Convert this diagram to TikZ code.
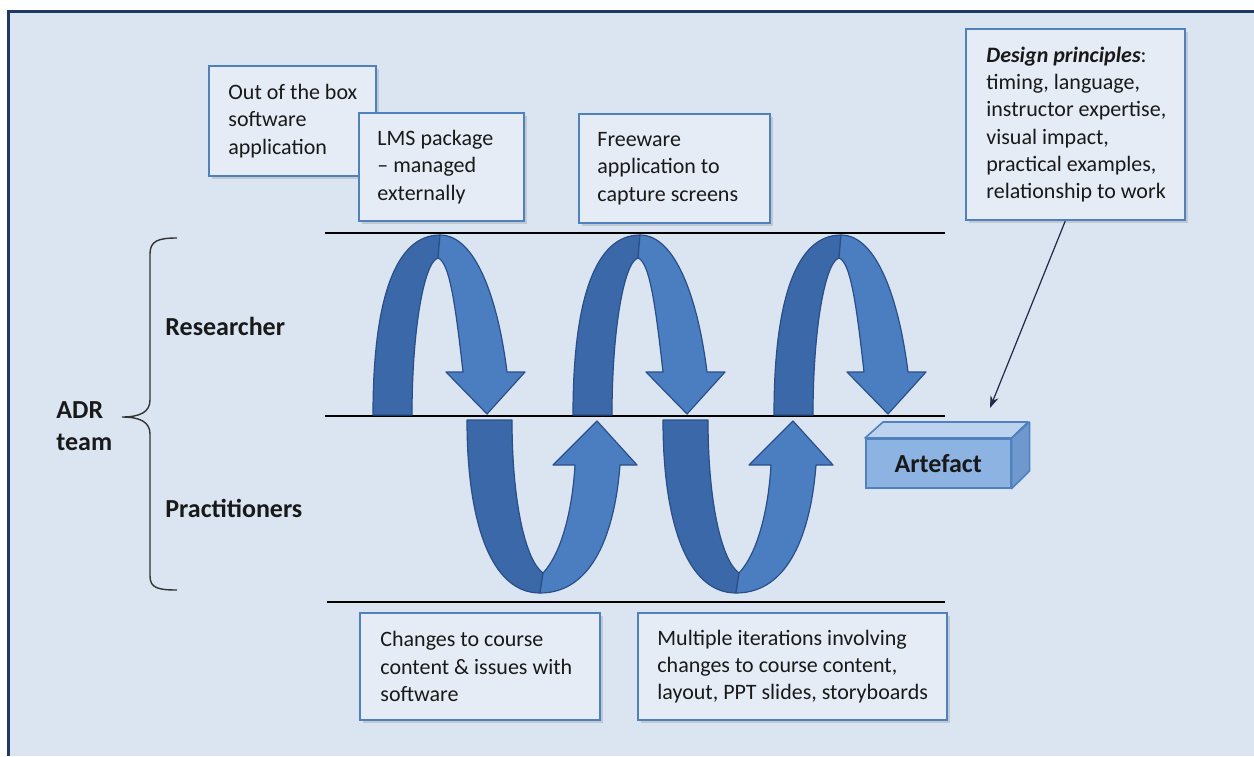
\documentclass[tikz,border=0pt]{standalone}
\usepackage{fontspec}
\setmainfont{Carlito}
\usetikzlibrary{shadows,arrows.meta}
\definecolor{bg}{HTML}{DBE5F2}
\definecolor{framec}{HTML}{1F3864}
\definecolor{boxedge}{HTML}{4F81BD}
\definecolor{boxfill}{HTML}{E5ECF6}
\definecolor{bandd}{HTML}{3B68A8}
\definecolor{bandl}{HTML}{4A7EC0}
\definecolor{bandedge}{HTML}{2A4F88}
\definecolor{artfront}{HTML}{8DB3E2}
\definecolor{arttop}{HTML}{BCD2EE}
\definecolor{artside}{HTML}{6F98CF}
\definecolor{pointer}{HTML}{1F2A44}
\begin{document}
\begin{tikzpicture}[x=0.5pt,y=-0.5pt,
  infobox/.style={draw=boxedge, line width=1.1pt, fill=boxfill, anchor=north west,
    inner sep=0pt, drop shadow={shadow xshift=1.6pt, shadow yshift=-1.6pt, opacity=0.28}},
  infotext/.style={anchor=west, align=left, inner sep=0pt,
    font=\fontsize{11}{13.6}\selectfont, text=black!90},
  rolelabel/.style={anchor=base west, inner sep=0pt,
    font=\fontsize{13}{16}\selectfont\bfseries, text=black!90},
  darkband/.style={fill=bandd, draw=bandedge, line width=0.6pt, line join=round},
  lightband/.style={fill=bandl, draw=bandedge, line width=0.6pt, line join=round},
  levelline/.style={line width=0.8pt, black},
]
\useasboundingbox (0,0) rectangle (1254,756);

% page background and frame
\fill[white] (0,0) rectangle (1254,756);
\fill[bg] (8,11) rectangle (1254,756);
\draw[framec, line width=1.5pt] (8,756) -- (8,11) -- (1254,11);

% level lines separating researcher and practitioner activity
\draw[levelline] (325,233) -- (945,233);
\draw[levelline] (325,416) -- (945,416);
\draw[levelline] (327,602) -- (945,602);

% researcher loops (arch with downward head)
\foreach \dx in {0,200,401}{
  \begin{scope}[shift={(\dx,0)}]
    \path[darkband] (373,415) .. controls (373,300) and (395,235) .. (440,235)
      -- (438,258) .. controls (424,262) and (412,330) .. (412,415) -- cycle;
    \path[lightband] (440,235) .. controls (476,235) and (498,300) .. (507,372)
      -- (525,372) -- (487,414) -- (446,372) -- (463,372)
      .. controls (456,310) and (450,262) .. (438,258) -- cycle;
  \end{scope}
}

% practitioner loops (U with upward head)
\foreach \dx in {0,196}{
  \begin{scope}[shift={(\dx,0)}]
    \path[darkband] (467,420) .. controls (467,520) and (490,593) .. (540,593)
      -- (543,573) .. controls (525,560) and (512,500) .. (512,420) -- cycle;
    \path[lightband] (540,593) .. controls (594,593) and (615,530) .. (620,465)
      -- (637,465) -- (597,421) -- (553,465) -- (575,465)
      .. controls (572,515) and (560,555) .. (543,573) -- cycle;
  \end{scope}
}

% team structure
\draw[line width=0.7pt, black!80]
  (177,238) .. controls (158,238) and (150,241) .. (150,254) -- (150,400)
  .. controls (150,412) and (140,417) .. (122,417)
  .. controls (140,417) and (150,422) .. (150,434) -- (150,576)
  .. controls (150,588) and (158,590) .. (177,590);
\node[rolelabel] (researcher) at (165,335) {Researcher};
\node[rolelabel] (practitioners) at (165,517) {Practitioners};
\node[anchor=base west, inner sep=0pt, align=left, text=black!90,
  font=\fontsize{13}{16}\selectfont\bfseries] (adr) at (56,418) {ADR};
\node[anchor=base west, inner sep=0pt, text=black!90,
  font=\fontsize{13}{16}\selectfont\bfseries] (team) at (56,450) {team};

% annotation boxes
\node[infobox, minimum width=83.5pt, minimum height=55pt] (oob) at (208,65) {};
\node[infotext] (oobt) at ([xshift=10pt]oob.west) {Out of the box\\software\\application};
\node[infobox, minimum width=82.5pt, minimum height=54pt] (lms) at (358,112) {};
\node[infotext] (lmst) at ([xshift=9.5pt]lms.west) {LMS package\\– managed\\externally};
\node[infobox, minimum width=95.5pt, minimum height=54.5pt] (free) at (578,113) {};
\node[infotext] (freet) at ([xshift=9.5pt]free.west) {Freeware\\application to\\capture screens};
\node[infobox, minimum width=109.5pt, minimum height=95.5pt] (design) at (965,28) {};
\node[infotext] (designt) at ([xshift=10.5pt]design.west)
  {\textbf{\textit{Design principles}}:\\timing, language,\\instructor expertise,\\visual impact,\\practical examples,\\relationship to work};
\node[infobox, minimum width=120pt, minimum height=53.5pt] (chg) at (359,612) {};
\node[infotext] (chgt) at ([xshift=10.5pt]chg.west) {Changes to course\\content \& issues with\\software};
\node[infobox, minimum width=154.5pt, minimum height=53.5pt] (iter) at (637,612) {};
\node[infotext] (itert) at ([xshift=10pt]iter.west) {Multiple iterations involving\\changes to course content,\\layout, PPT slides, storyboards};

% artefact block
\node[draw=boxedge, line width=0.8pt, fill=artfront, anchor=north west, inner sep=0pt,
  minimum width=72.5pt, minimum height=24.5pt,
  font=\fontsize{13}{16}\selectfont\bfseries, text=black!90] (art) at (865,438) {Artefact};
\draw[boxedge, line width=0.8pt, fill=arttop, line join=round]
  (art.north west) -- ++(18,-16) -- ++(145,0) -- (art.north east) -- cycle;
\draw[boxedge, line width=0.8pt, fill=artside, line join=round]
  (art.north east) -- ++(18,-16) -- ++(0,49) -- (art.south east) -- cycle;

% design principles feed the artefact
\coordinate (dpend) at (990,408);
\draw[pointer, line width=0.6pt, -{Stealth[length=6pt,width=4.2pt]}]
  ([xshift=-5.2pt]design.south) -- (dpend);
\end{tikzpicture}
\end{document}
